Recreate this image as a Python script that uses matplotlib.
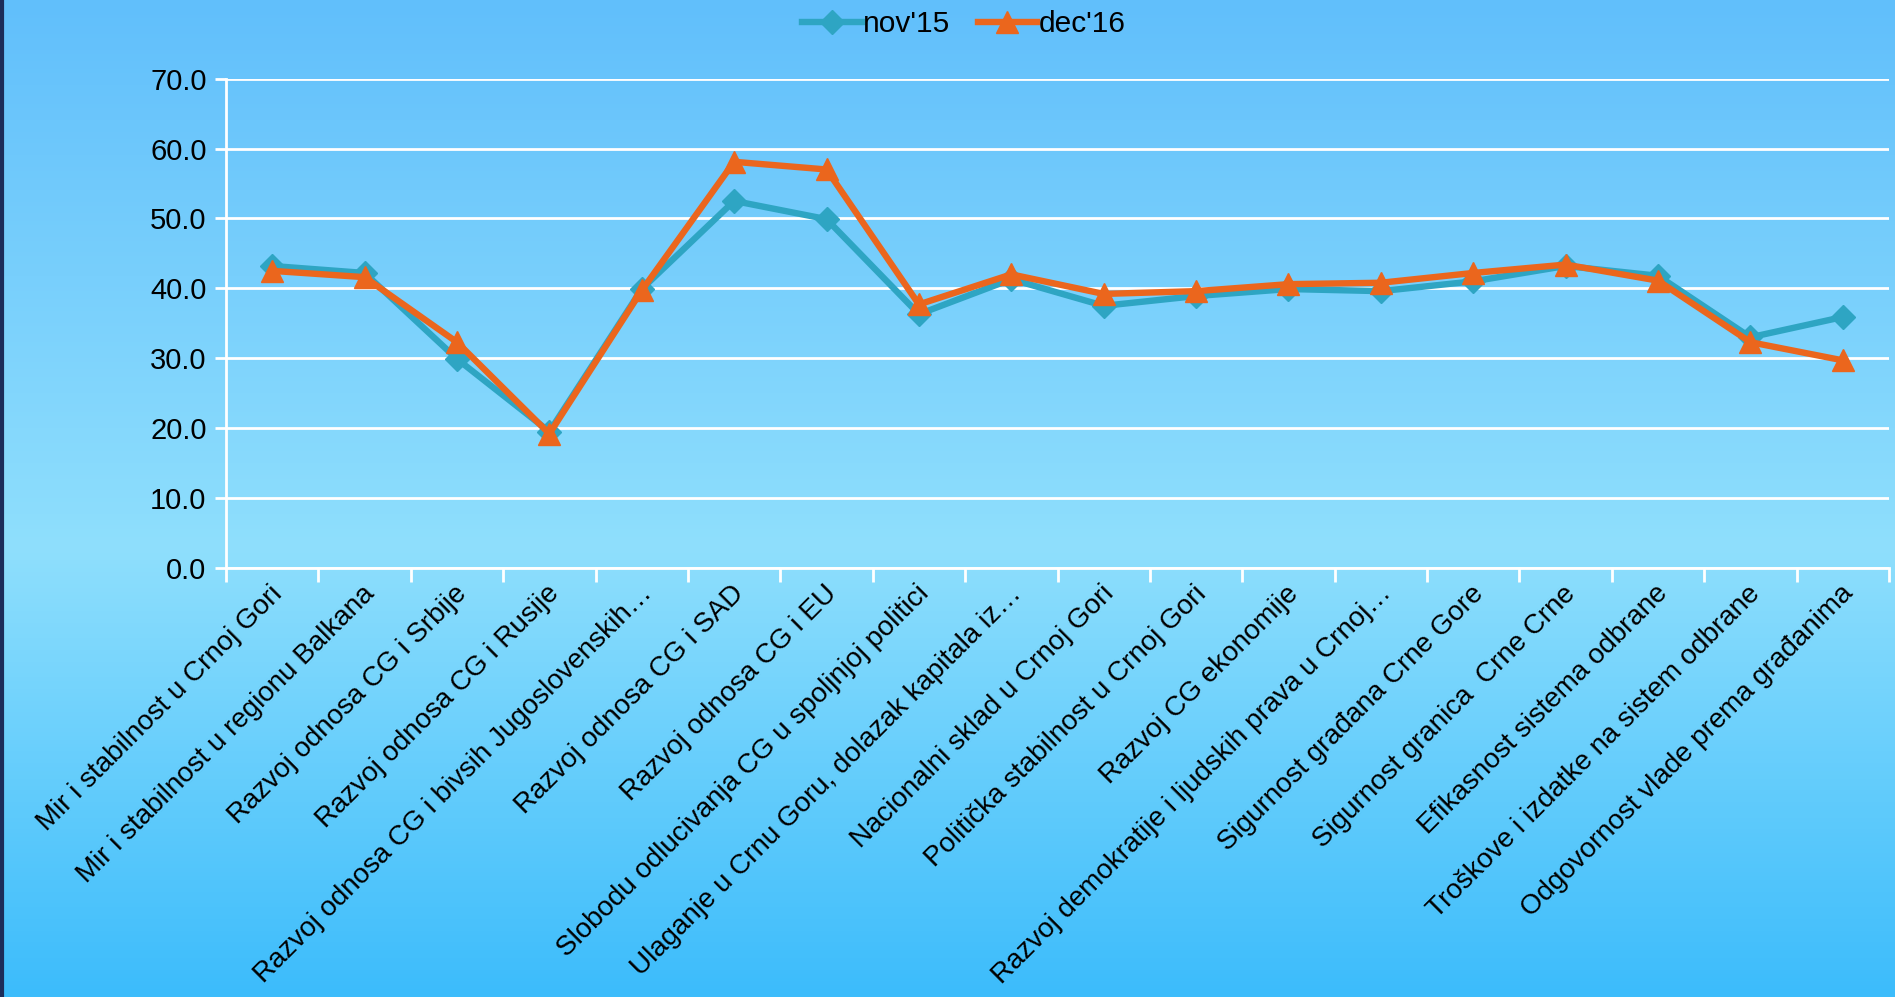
import numpy as np
import matplotlib
matplotlib.use("Agg")
import matplotlib.pyplot as plt
import matplotlib.transforms as mtransforms
from matplotlib.colors import LinearSegmentedColormap
from matplotlib.ticker import FixedLocator, FuncFormatter

plt.rcParams['font.family'] = ['Liberation Sans', 'DejaVu Sans']

categories = [
    "Mir i stabilnost u Crnoj Gori",
    "Mir i stabilnost u regionu Balkana",
    "Razvoj odnosa CG i Srbije",
    "Razvoj odnosa CG i Rusije",
    "Razvoj odnosa CG i bivsih Jugoslovenskih…",
    "Razvoj odnosa CG i SAD",
    "Razvoj odnosa CG i EU",
    "Slobodu odlucivanja CG u spoljnjoj politici",
    "Ulaganje u Crnu Goru, dolazak kapitala iz…",
    "Nacionalni sklad u Crnoj Gori",
    "Politička stabilnost u Crnoj Gori",
    "Razvoj CG ekonomije",
    "Razvoj demokratije i ljudskih prava u Crnoj…",
    "Sigurnost građana Crne Gore",
    "Sigurnost granica  Crne Crne",
    "Efikasnost sistema odbrane",
    "Troškove i izdatke na sistem odbrane",
    "Odgovornost vlade prema građanima",
]
nov15 = [43.2, 42.2, 29.9, 19.5, 39.9, 52.5, 49.9, 36.3, 41.3, 37.5,
         38.9, 39.9, 39.6, 41.0, 43.2, 41.8, 33.0, 35.9]
dec16 = [42.5, 41.6, 32.3, 19.2, 39.7, 58.1, 57.0, 37.7, 42.0, 39.2,
         39.6, 40.6, 40.8, 42.2, 43.4, 41.1, 32.3, 29.7]
series_names = ["nov'15", "dec'16"]
yticks = [0, 10, 20, 30, 40, 50, 60, 70]

W, H = 1895, 997
fig = plt.figure(figsize=(W / 100, H / 100), dpi=100)

# gradient background
bg = fig.add_axes([0, 0, 1, 1], zorder=0)
cmap = LinearSegmentedColormap.from_list(
    "bg", [(0.0, "#61bffb"), (0.55, "#8fdffd"), (1.0, "#3cbcfb")])
grad = np.linspace(0, 1, 256).reshape(-1, 1)
bg.imshow(grad, aspect="auto", cmap=cmap, extent=[0, 1, 0, 1], origin="upper")
bg.axvline(0.0008, color="#1c2d5a", lw=3)
bg.set_xlim(0, 1)
bg.set_ylim(0, 1)
bg.axis("off")

ax = fig.add_axes([226 / W, 1 - 568 / H, (1889 - 226) / W, (568 - 78.6) / H], zorder=1)
ax.patch.set_alpha(0)

x = np.arange(len(categories))
ax.plot(x, nov15, color="#2ea5c3", lw=4.6, marker="D", ms=12,
        label=series_names[0], zorder=3)
ax.plot(x, dec16, color="#eb661d", lw=4.6, marker="^", ms=16,
        label=series_names[1], zorder=4)

ax.set_xlim(-0.5, len(categories) - 0.5)
ax.set_ylim(0, 70)
ax.yaxis.set_major_locator(FixedLocator(yticks))
ax.yaxis.set_major_formatter(FuncFormatter(lambda v, p: f"{v:.1f}"))
ax.grid(axis="y", color="white", lw=2)
ax.set_axisbelow(True)

ax.set_xticks(x)
ax.set_xticklabels(categories, rotation=45, ha="right", rotation_mode="anchor")
ax.set_xticks(np.arange(-0.5, len(categories), 1.0), minor=True)
ax.tick_params(axis="x", which="major", length=0, pad=9, labelsize=20)
ax.tick_params(axis="x", which="minor", length=10, width=2, color="white")
ax.tick_params(axis="y", length=8, width=2, color="white", labelsize=21, pad=6)
offset = mtransforms.ScaledTranslation(-3 / 100, 0, fig.dpi_scale_trans)
for lab in ax.get_xticklabels():
    lab.set_transform(lab.get_transform() + offset)

for s in ["top", "right"]:
    ax.spines[s].set_visible(False)
for s in ["left", "bottom"]:
    ax.spines[s].set_color("white")
    ax.spines[s].set_linewidth(2)

leg = fig.legend(loc="center", bbox_to_anchor=(964 / W, 1 - 24 / H), ncol=2,
                 frameon=False, fontsize=21.5, handlelength=2.0,
                 handletextpad=0.05, columnspacing=0.9)

fig.savefig("out.png", dpi=100)
